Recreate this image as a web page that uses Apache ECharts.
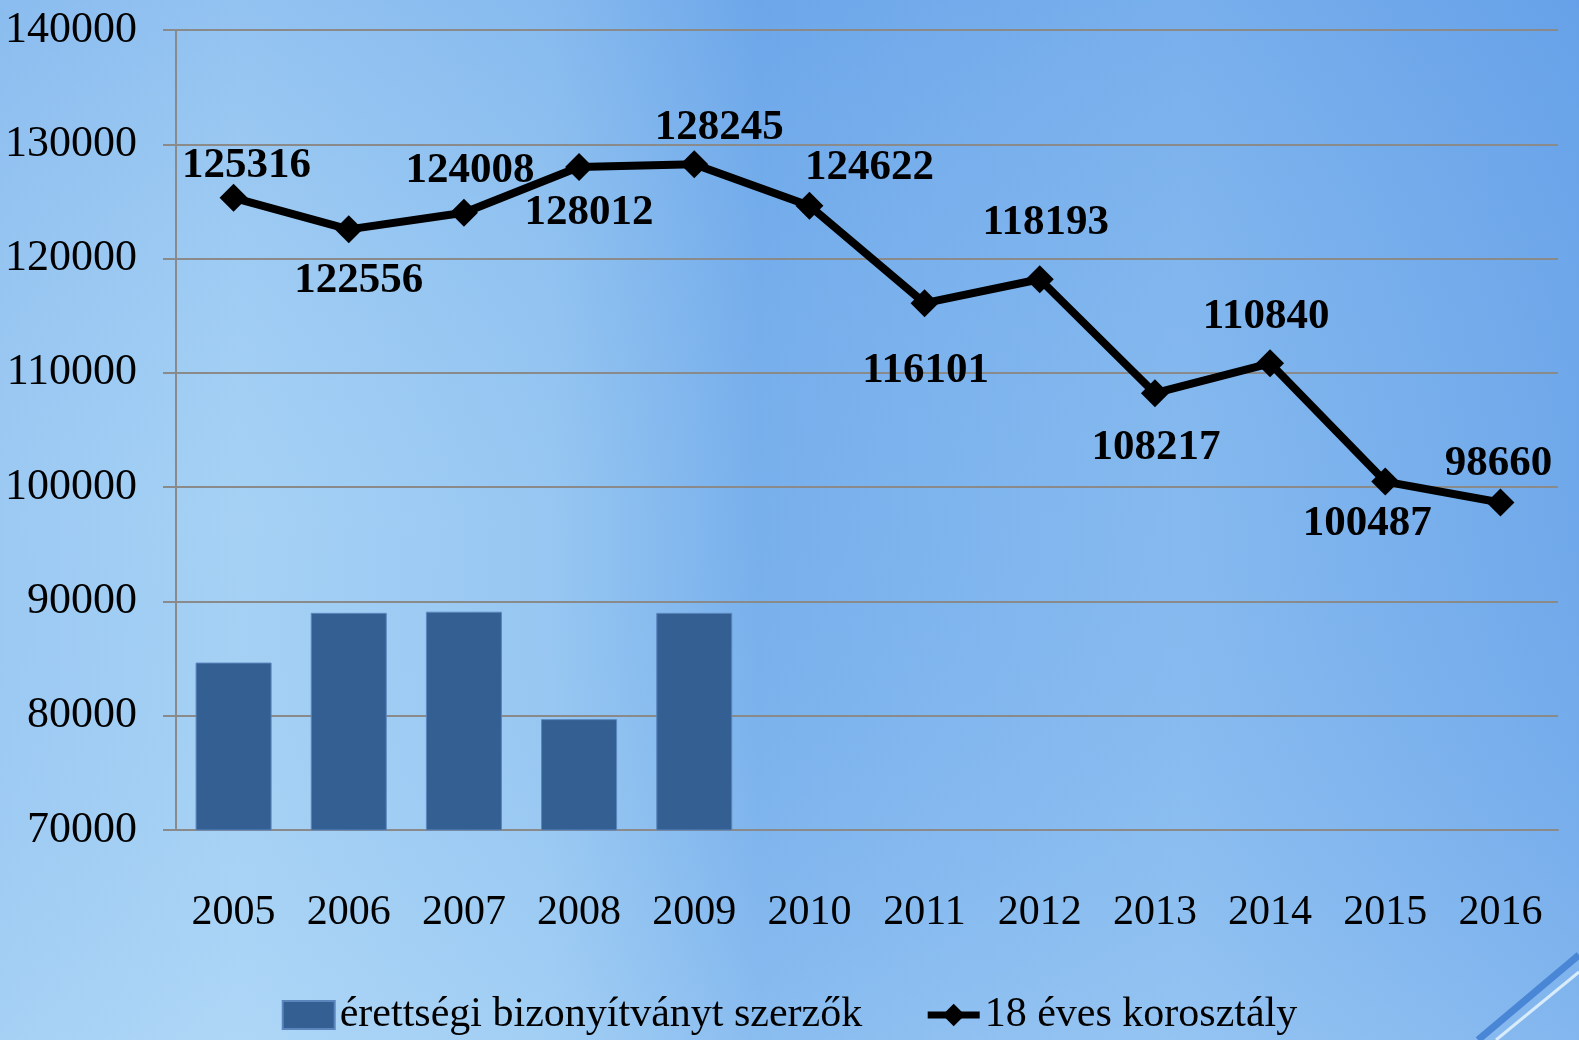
<!DOCTYPE html>
<html lang="hu">
<head>
    <meta charset="UTF-8">
    <title>Érettségi és 18 éves korosztály</title>
    <script src="https://cdn.jsdelivr.net/npm/echarts@6/dist/echarts.min.js"></script>
    <style>
        html, body { margin: 0; padding: 0; }
        #chart { width: 1579px; height: 1040px; }
    </style>
</head>
<body>
<div id="chart"></div>
<script type="text/javascript">
    var years = ['2005', '2006', '2007', '2008', '2009', '2010', '2011', '2012', '2013', '2014', '2015', '2016'];
    var erettsegi = [84650, 89000, 89100, 79700, 89000];
    var korosztaly = [125316, 122556, 124008, 128012, 128245, 124622, 116101, 118193, 108217, 110840, 100487, 98660];
    var yTicks = { min: 70000, max: 140000, interval: 10000 };

    // label placement around each point (px)
    var labelOffsets = [[13, -32], [10, 52], [6, -42], [10, 46], [25, -36], [60, -38],
                        [1, 68], [6, -56], [1, 55], [-4, -46], [-18, 42], [-2, -39]];

    var serif = 'Liberation Serif';

    var lineData = korosztaly.map(function (v, i) {
        return {
            value: v,
            label: { position: 'inside', offset: labelOffsets[i] }
        };
    });

    var chart = echarts.init(document.getElementById('chart'));
    var option = {
        backgroundColor: new echarts.graphic.LinearGradient(0, 0, 1, 0, [
            { offset: 0, color: '#9ecbf3' },
            { offset: 0.15, color: '#a8d3f5' },
            { offset: 0.35, color: '#98c8f2' },
            { offset: 0.48, color: '#78b0ec' },
            { offset: 0.6, color: '#7fb5ee' },
            { offset: 0.75, color: '#86baef' },
            { offset: 1, color: '#6fa8ea' }
        ]),
        graphic: [
            {
                type: 'rect', z: -1, silent: true,
                shape: { x: 0, y: 0, width: 1579, height: 1040 },
                style: {
                    fill: new echarts.graphic.LinearGradient(0, 0, 0, 1, [
                        { offset: 0, color: 'rgba(70,135,225,0.22)' },
                        { offset: 0.5, color: 'rgba(120,175,235,0.05)' },
                        { offset: 1, color: 'rgba(190,225,250,0.25)' }
                    ])
                }
            },
            {
                type: 'line', silent: true,
                shape: { x1: 1478, y1: 1040, x2: 1579, y2: 955 },
                style: { stroke: '#4a86d6', lineWidth: 7 }
            },
            {
                type: 'line', silent: true,
                shape: { x1: 1496, y1: 1040, x2: 1579, y2: 972 },
                style: { stroke: '#d8ecfb', lineWidth: 3 }
            }
        ],
        grid: { left: 176, right: 21, top: 30, bottom: 210 },
        legend: {
            left: 'center',
            top: 989,
            itemGap: 62,
            itemWidth: 52,
            itemHeight: 28,
            textStyle: { fontFamily: serif, fontSize: 42, color: '#000' },
            data: [
                { name: 'érettségi bizonyítványt szerzők', icon: 'rect' },
                { name: '18 éves korosztály', lineStyle: { width: 7 } }
            ]
        },
        xAxis: {
            type: 'category',
            data: years,
            axisLine: { lineStyle: { color: '#8a8a8a', width: 2 } },
            axisTick: { length: 15, lineStyle: { color: '#8a8a8a', width: 2 } },
            axisLabel: { margin: 62, fontFamily: serif, fontSize: 42, color: '#000' }
        },
        yAxis: {
            type: 'value',
            min: yTicks.min,
            max: yTicks.max,
            interval: yTicks.interval,
            axisLine: { show: true, lineStyle: { color: '#8a8a8a', width: 2 } },
            axisTick: { show: true, length: 13, lineStyle: { color: '#8a8a8a', width: 2 } },
            splitLine: { lineStyle: { color: '#8a8a8a', width: 2 } },
            axisLabel: {
                margin: 39, fontFamily: serif, fontSize: 44, color: '#000',
                formatter: function (v) { return String(v); }
            }
        },
        series: [
            {
                name: 'érettségi bizonyítványt szerzők',
                type: 'bar',
                barWidth: 76,
                itemStyle: { color: '#345f92', borderColor: '#5a86bd', borderWidth: 1 },
                data: erettsegi
            },
            {
                name: '18 éves korosztály',
                type: 'line',
                symbol: 'diamond',
                symbolSize: 28,
                itemStyle: { color: '#000' },
                lineStyle: { color: '#000', width: 8 },
                label: {
                    show: true,
                    fontFamily: serif,
                    fontSize: 43,
                    fontWeight: 'bold',
                    color: '#000'
                },
                data: lineData
            }
        ]
    };
    chart.setOption(option);
</script>
</body>
</html>
